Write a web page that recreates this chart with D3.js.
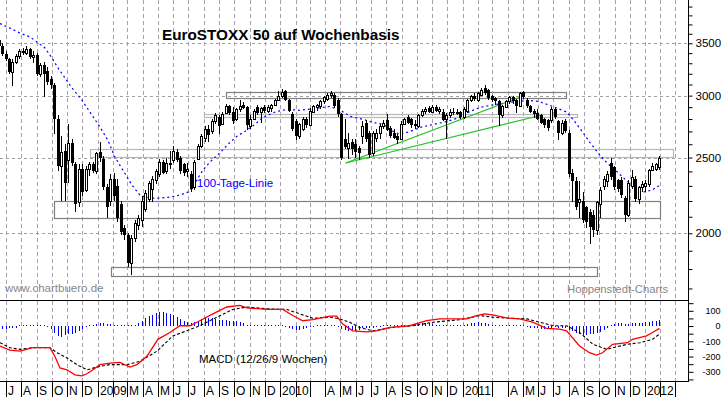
<!DOCTYPE html>
<html>
<head>
<meta charset="utf-8">
<script src="https://cdn.jsdelivr.net/npm/d3@7"></script>
<style>
  body { margin: 0; background: #fff; }
  svg { display: block; font-family: Arial, 'Liberation Sans', sans-serif; }
</style>
</head>
<body>
<div id="chart"></div>
<script>
// weekly candles, one per Monday from Jun 16 2008 to Jan 30 2012
let firstWeek = '2008-06-16',
    lastWeek = '2012-01-30';

let weekOpen = [
    3530,3470,3390,3340,3220,3310,3370,3420,3400,3440,
    3360,3380,3200,3280,3230,3150,3100,2800,2440,2550,
    2480,2610,2450,2190,2420,2270,2420,2450,2400,2540,
    2490,2290,2200,2350,2300,2180,2030,1990,1830,1970,
    2050,2080,2150,2210,2280,2340,2380,2470,2400,2450,
    2480,2540,2500,2450,2400,2380,2290,2490,2590,2650,
    2720,2700,2780,2820,2760,2850,2910,2860,2800,2880,
    2920,2900,2740,2800,2900,2860,2900,2870,2890,2920,
    2960,3000,3040,2960,2840,2780,2660,2720,2800,2750,
    2860,2900,2910,2950,2970,3010,3010,2960,2840,2640,
    2570,2620,2600,2570,2660,2770,2690,2530,2650,2690,
    2740,2790,2730,2690,2660,2640,2760,2820,2800,2760,
    2740,2830,2870,2890,2860,2900,2870,2860,2800,2830,
    2860,2850,2860,2820,2870,2960,3000,2960,3010,3070,
    3050,3000,2980,2950,2830,2900,2950,2990,2960,2910,
    3030,2960,2910,2870,2850,2830,2800,2790,2790,2880,
    2780,2690,2780,2690,2390,2330,2190,2200,2160,2130,
    2110,2020,2180,2300,2330,2460,2430,2340,2340,2220,
    2110,2300,2350,2210,2290,2300,2310,2410,2420,2430
];
let weekHigh = [
    3580,3500,3420,3350,3340,3390,3440,3450,3470,3450,
    3420,3400,3300,3310,3260,3180,3110,2830,2660,2600,
    2760,2640,2470,2450,2450,2440,2470,2470,2540,2620,
    2510,2310,2380,2390,2350,2200,2050,2000,1990,2080,
    2110,2230,2270,2330,2370,2420,2490,2480,2500,2550,
    2590,2560,2510,2460,2460,2400,2480,2600,2680,2740,
    2750,2800,2850,2830,2860,2930,2920,2900,2890,2960,
    2940,2910,2830,2880,2920,2900,2920,2920,2930,2970,
    3040,3060,3050,2970,2860,2800,2770,2820,2820,2890,
    2920,2930,2960,3000,3020,3040,3020,2980,2850,2800,
    2690,2640,2640,2590,2780,2790,2700,2700,2720,2760,
    2790,2840,2740,2720,2680,2780,2810,2830,2810,2790,
    2840,2880,2900,2910,2920,2920,2900,2880,2850,2880,
    2890,2880,2870,2900,2970,3010,3020,3030,3070,3100,
    3060,3010,2990,2960,2920,2960,3000,3000,2970,3030,
    3040,2980,2920,2880,2880,2840,2810,2800,2900,2890,
    2790,2790,2800,2710,2420,2360,2330,2260,2170,2150,
    2140,2200,2290,2370,2400,2500,2440,2350,2360,2230,
    2340,2410,2370,2300,2330,2340,2420,2460,2460,2510
];
let weekLow = [
    3450,3370,3320,3200,3090,3290,3340,3380,3380,3340,
    3300,3180,3170,2990,3100,3060,2680,2400,2200,2200,
    2320,2440,2130,2160,2230,2260,2370,2390,2380,2470,
    2270,2090,2170,2200,2070,1990,1960,1810,1770,1950,
    2020,2040,2130,2190,2190,2310,2360,2380,2380,2420,
    2460,2470,2380,2370,2360,2260,2270,2480,2570,2620,
    2620,2680,2760,2680,2750,2840,2830,2760,2780,2860,
    2880,2710,2720,2790,2830,2770,2850,2850,2860,2910,
    2950,2980,2950,2860,2700,2630,2640,2700,2730,2740,
    2850,2870,2880,2930,2950,2980,2890,2820,2480,2560,
    2490,2520,2500,2480,2600,2620,2500,2510,2620,2640,
    2720,2700,2650,2640,2600,2630,2750,2760,2730,2720,
    2730,2820,2840,2850,2850,2860,2840,2780,2640,2810,
    2830,2830,2800,2800,2850,2940,2950,2940,3000,3010,
    2960,2940,2920,2740,2810,2890,2930,2930,2850,2900,
    2970,2890,2850,2810,2790,2760,2730,2700,2770,2800,
    2630,2670,2690,2360,2190,2140,2090,2060,2030,1940,
    1980,1990,2090,2270,2290,2340,2270,2260,2220,2070,
    2100,2280,2190,2180,2260,2260,2290,2400,2400,2410
];
let weekClose = [
    3470,3390,3340,3220,3310,3370,3420,3400,3440,3360,
    3380,3200,3280,3200,3120,3100,2800,2440,2540,2320,
    2610,2460,2180,2420,2260,2420,2450,2400,2530,2500,
    2290,2160,2350,2230,2090,2010,1990,1830,1970,2060,
    2090,2200,2250,2320,2350,2400,2470,2390,2460,2460,
    2550,2480,2400,2390,2420,2280,2470,2590,2660,2720,
    2670,2780,2830,2740,2840,2910,2850,2780,2880,2910,
    2890,2750,2800,2870,2850,2890,2870,2900,2920,2960,
    3000,3030,2960,2870,2720,2660,2760,2800,2750,2870,
    2910,2920,2950,2990,3010,3020,2910,2840,2500,2580,
    2610,2560,2540,2530,2740,2640,2520,2690,2690,2740,
    2770,2710,2660,2650,2630,2760,2800,2770,2750,2740,
    2830,2870,2880,2860,2900,2870,2880,2790,2830,2860,
    2850,2860,2820,2880,2960,3000,2970,3020,3050,3020,
    2980,2960,2950,2830,2910,2950,2990,2950,2910,3020,
    2990,2910,2860,2840,2800,2770,2750,2730,2880,2820,
    2690,2770,2700,2380,2330,2160,2210,2080,2070,2040,
    2020,2190,2270,2350,2380,2360,2290,2280,2240,2110,
    2320,2360,2210,2290,2310,2320,2410,2440,2450,2500
];

// 100-Tage-Linie
let maDates = [
    '2008-06-19','2008-07-09','2008-07-29','2008-08-18','2008-09-01','2008-09-17','2008-10-01','2008-10-13',
    '2008-10-27','2008-11-10','2008-11-30','2008-12-16','2009-01-05','2009-01-21','2009-02-04','2009-02-20',
    '2009-03-10','2009-03-26','2009-04-15','2009-05-05','2009-05-25','2009-06-14','2009-06-30','2009-07-10',
    '2009-07-20','2009-07-30','2009-08-13','2009-09-02','2009-09-22','2009-10-06','2009-10-22','2009-11-11',
    '2009-11-27','2009-12-11','2009-12-25','2010-01-16','2010-02-09','2010-03-15','2010-04-10','2010-05-05',
    '2010-05-21','2010-06-16','2010-07-06','2010-07-26','2010-08-15','2010-08-29','2010-09-18','2010-10-08',
    '2010-11-03','2010-12-01','2010-12-27','2011-01-16','2011-02-05','2011-02-25','2011-03-23','2011-04-20',
    '2011-05-12','2011-06-01','2011-06-25','2011-07-15','2011-07-29','2011-08-10','2011-08-28','2011-09-13',
    '2011-09-29','2011-10-17','2011-11-06','2011-11-26','2011-12-16','2011-12-28','2012-01-15','2012-01-31'
];
let maValues = [
    3710,3660,3607,3566,3513,3452,3352,3255,
    3161,3069,2961,2858,2735,2631,2503,2409,
    2306,2238,2218,2218,2225,2238,2258,2285,
    2352,2409,2466,2535,2613,2661,2700,2756,
    2812,2839,2864,2881,2873,2890,2906,2864,
    2822,2797,2772,2756,2700,2676,2700,2732,
    2756,2781,2814,2864,2898,2915,2933,2950,
    2959,2950,2915,2881,2856,2797,2700,2613,
    2534,2460,2398,2332,2271,2258,2271,2306
];

// MACD (12/26/9) line, red
let macdDates = [
    '2008-06-19','2008-07-09','2008-07-29','2008-08-24','2008-09-27','2008-10-07','2008-10-17','2008-10-31',
    '2008-11-16','2008-11-30','2008-12-10','2008-12-22','2009-01-05','2009-01-25','2009-02-14','2009-03-06',
    '2009-03-20','2009-04-09','2009-05-01','2009-05-25','2009-06-14','2009-07-04','2009-07-24','2009-08-19',
    '2009-09-16','2009-10-12','2009-10-26','2009-12-05','2010-01-06','2010-01-26','2010-02-15','2010-03-07',
    '2010-04-10','2010-04-24','2010-05-06','2010-05-26','2010-06-23','2010-07-13','2010-08-08','2010-09-17',
    '2010-10-21','2010-11-16','2011-01-09','2011-01-29','2011-02-14','2011-03-02','2011-03-30','2011-04-25',
    '2011-05-21','2011-06-18','2011-07-14','2011-07-28','2011-08-23','2011-09-12','2011-09-26','2011-10-08',
    '2011-10-28','2011-11-27','2011-12-07','2012-01-04','2012-01-16','2012-01-30'
];
let macdValues = [
    -131,-158,-165,-142,-142,-200,-275,-287,
    -320,-327,-313,-287,-253,-243,-238,-269,
    -253,-198,-87,-42,2,2,35,80,
    125,135,120,109,109,69,35,42,
    65,65,13,-31,-38,-31,-9,2,
    35,47,47,69,80,73,53,47,
    25,-15,-20,-31,-131,-175,-191,-175,
    -120,-109,-87,-64,-42,-15
];

// signal line, black dashed
let signalDates = [
    '2008-06-19','2008-07-09','2008-07-29','2008-08-24','2008-09-27','2008-10-11','2008-10-31','2008-11-20',
    '2008-12-10','2009-01-05','2009-01-25','2009-02-28','2009-03-26','2009-04-29','2009-05-31','2009-06-28',
    '2009-07-24','2009-08-27','2009-09-28','2009-10-26','2009-12-05','2010-01-14','2010-02-09','2010-03-07',
    '2010-04-10','2010-04-30','2010-05-20','2010-06-09','2010-07-05','2010-08-14','2010-09-24','2010-11-03',
    '2010-12-27','2011-02-05','2011-03-02','2011-04-06','2011-05-10','2011-06-05','2011-07-01','2011-07-28',
    '2011-08-23','2011-09-19','2011-10-17','2011-11-06','2011-11-26','2011-12-22','2012-01-16','2012-01-30'
];
let signalValues = [
    -109,-142,-153,-142,-142,-175,-209,-253,
    -287,-264,-253,-253,-231,-165,-65,-31,
    2,58,109,125,113,109,80,51,
    58,47,25,-9,-31,-9,2,25,
    42,69,58,51,47,25,2,2,
    -42,-120,-153,-136,-120,-109,-87,-53
];

// histogram bars, one per week
let histValues = [
    -15,-20,-20,-15,-12,-10,2,3,3,2,
    0,3,2,0,-5,-20,-45,-65,-70,-60,
    -55,-50,-45,-35,-20,-5,3,8,15,20,
    18,15,12,10,8,5,3,2,3,10,
    20,35,50,65,75,85,90,90,85,80,
    75,60,45,35,25,20,25,35,45,50,
    50,50,45,40,40,40,35,30,30,25,
    20,10,3,2,2,3,2,3,5,3,
    2,0,-5,-12,-20,-25,-25,-20,-15,-8,
    -3,0,3,5,8,8,5,-5,-20,-28,
    -32,-35,-30,-25,-15,-15,-15,-10,-8,-5,
    5,10,10,8,5,5,8,10,10,12,
    15,20,20,18,15,10,5,3,2,3,
    3,3,5,10,15,20,22,25,22,20,
    12,5,3,2,2,3,3,2,3,2,
    0,-5,-10,-12,-15,-18,-18,-15,-10,-8,
    -10,-12,-15,-25,-35,-45,-55,-60,-60,-55,
    -50,-45,-40,-25,-10,5,15,20,20,15,
    15,20,20,20,20,25,25,30,35,40
];

// support / resistance boxes
let boxFrom = ['2009-09-14','2009-08-01','2008-12-16','2008-10-05','2009-01-27'],
    boxTo   = ['2011-07-26','2011-08-17','2012-02-25','2012-01-31','2011-09-27'],
    boxLow  = [2980, 2817, 2504, 2090, 1764],
    boxHigh = [3033, 2842, 2564, 2200, 1811];

// green trend lines
let trendFrom = ['2010-05-12','2010-05-12'],
    trendFromValue = [2460, 2460],
    trendTo = ['2011-05-02','2011-06-09'],
    trendToValue = [2997, 2834];

let priceTicks = [2000, 2500, 3000, 3500],
    macdTicks = [100, 0, -100, -200, -300];

// one label per month from Jul 2008 to Mar 2012, blank where the chart shows none
let monthLabels = [
    'J','A','S','O','N','D',
    '2009','','M','A','M','J','J','A','S','O','N','D',
    '2010','','','A','M','J','J','A','S','O','N','D',
    '2011','','','A','M','J','J','A','S','O','N','D',
    '2012','',''
];


let width = 723, height = 397,
    plotRight = 688,
    priceBottom = 300,
    macdBottom = 381;

let parse = d3.timeParse('%Y-%m-%d');

let svg = d3.select('#chart')
    .append('svg')
        .attr('width', width)
        .attr('height', height);

let x = d3.scaleTime()
    .domain([parse('2008-07-01'), parse('2012-01-01')])
    .range([6, 645]);

let y = d3.scaleLog()
    .domain([2000, 3500])
    .range([233.3, 43.3]);

let ym = d3.scaleLinear()
    .domain([-300, 100])
    .range([371.8, 310.8]);

let defs = svg.append('defs');
defs.append('clipPath').attr('id', 'clipPrice')
    .append('rect').attr('x', 0).attr('y', 0).attr('width', plotRight).attr('height', priceBottom);
defs.append('clipPath').attr('id', 'clipMacd')
    .append('rect').attr('x', 0).attr('y', priceBottom).attr('width', plotRight).attr('height', macdBottom - priceBottom);

let weeks = d3.timeMonday.range(parse(firstWeek), d3.timeDay.offset(parse(lastWeek), 1));
let candles = weeks.map(function(d, i) {
    return { date: d, o: weekOpen[i], h: weekHigh[i], l: weekLow[i], c: weekClose[i], hist: histValues[i] };
});

let months = d3.timeMonth.range(parse('2008-07-01'), parse('2012-03-02'));

// grid
svg.append('g')
    .selectAll('line')
    .data(months)
    .enter()
    .append('line')
        .attr('x1', d => Math.round(x(d)) + 0.5)
        .attr('x2', d => Math.round(x(d)) + 0.5)
        .attr('y1', 0)
        .attr('y2', macdBottom)
        .attr('stroke', '#ab9eb0')
        .attr('stroke-dasharray', '4,3');

svg.append('g')
    .selectAll('line')
    .data(priceTicks)
    .enter()
    .append('line')
        .attr('x1', 0)
        .attr('x2', plotRight)
        .attr('y1', d => Math.round(y(d)) + 0.5)
        .attr('y2', d => Math.round(y(d)) + 0.5)
        .attr('stroke', '#a0a0a0')
        .attr('stroke-dasharray', '3,3');

let price = svg.append('g').attr('clip-path', 'url(#clipPrice)');

// boxes
let lightBoxes = [1, 2];
price.selectAll('rect.box')
    .data(boxFrom)
    .enter()
    .append('rect')
        .attr('class', 'box')
        .attr('x', (d, i) => Math.round(x(parse(d))) + 0.5)
        .attr('y', (d, i) => Math.round(y(boxHigh[i])) + 0.5)
        .attr('width', (d, i) => Math.round(x(parse(boxTo[i])) - x(parse(d))))
        .attr('height', (d, i) => Math.round(y(boxLow[i]) - y(boxHigh[i])))
        .attr('fill', 'none')
        .attr('stroke', (d, i) => lightBoxes.includes(i) ? '#b8b8b8' : '#808080')
        .attr('stroke-width', 1.2);

// moving average
let maLine = d3.line()
    .x(d => x(d.date))
    .y(d => y(d.value));

price.append('path')
    .datum(maDates.map((d, i) => ({ date: parse(d), value: maValues[i] })))
    .attr('d', maLine)
    .attr('fill', 'none')
    .attr('stroke', '#0000ff')
    .attr('stroke-width', 1.2)
    .attr('stroke-dasharray', '2,3');

// trend lines
price.selectAll('line.trend')
    .data(trendFrom)
    .enter()
    .append('line')
        .attr('class', 'trend')
        .attr('x1', d => x(parse(d)))
        .attr('y1', (d, i) => y(trendFromValue[i]))
        .attr('x2', (d, i) => x(parse(trendTo[i])))
        .attr('y2', (d, i) => y(trendToValue[i]))
        .attr('stroke', '#22c422')
        .attr('stroke-width', 1.2);

// candles
let cg = price.selectAll('g.candle')
    .data(candles)
    .enter()
    .append('g')
        .attr('class', 'candle')
        .attr('shape-rendering', 'crispEdges');

cg.append('line')
    .attr('x1', d => Math.round(x(d.date)) + 0.5)
    .attr('x2', d => Math.round(x(d.date)) + 0.5)
    .attr('y1', d => Math.round(y(d.h)))
    .attr('y2', d => Math.round(y(d.l)))
    .attr('stroke', '#000');

cg.append('rect')
    .attr('x', d => d.c >= d.o ? Math.round(x(d.date)) - 0.5 : Math.round(x(d.date)) - 1)
    .attr('y', function(d) {
        let top = Math.round(y(Math.max(d.o, d.c)));
        return d.c >= d.o ? top + 0.5 : top;
    })
    .attr('width', d => d.c >= d.o ? 2 : 3)
    .attr('height', function(d) {
        let h = Math.round(y(Math.min(d.o, d.c))) - Math.round(y(Math.max(d.o, d.c)));
        return Math.max(h, 1);
    })
    .attr('fill', d => d.c >= d.o ? '#fff' : '#000')
    .attr('stroke', d => d.c >= d.o ? '#000' : 'none');

// MACD panel
let macd = svg.append('g').attr('clip-path', 'url(#clipMacd)');

macd.selectAll('line.hist')
    .data(candles)
    .enter()
    .append('line')
        .attr('class', 'hist')
        .attr('x1', d => Math.round(x(d.date)) + 0.5)
        .attr('x2', d => Math.round(x(d.date)) + 0.5)
        .attr('y1', d => Math.round(ym(0)))
        .attr('y2', function(d) {
            let y0 = Math.round(ym(0)), y1 = Math.round(ym(d.hist));
            return Math.abs(y1 - y0) < 1 ? y0 - 1 : y1;
        })
        .attr('stroke', '#0000ff')
        .attr('stroke-width', 1)
        .attr('shape-rendering', 'crispEdges');

let macdLine = d3.line()
    .x(d => x(d.date))
    .y(d => ym(d.value));

macd.append('path')
    .datum(signalDates.map((d, i) => ({ date: parse(d), value: signalValues[i] })))
    .attr('d', macdLine)
    .attr('fill', 'none')
    .attr('stroke', '#000')
    .attr('stroke-width', 1.1)
    .attr('stroke-dasharray', '3,2');

macd.append('path')
    .datum(macdDates.map((d, i) => ({ date: parse(d), value: macdValues[i] })))
    .attr('d', macdLine)
    .attr('fill', 'none')
    .attr('stroke', '#ff0000')
    .attr('stroke-width', 1.3);

// frame
svg.append('line')
    .attr('x1', 0).attr('x2', plotRight)
    .attr('y1', priceBottom + 0.5).attr('y2', priceBottom + 0.5)
    .attr('stroke', '#000');
svg.append('line')
    .attr('x1', 0).attr('x2', plotRight)
    .attr('y1', macdBottom + 0.5).attr('y2', macdBottom + 0.5)
    .attr('stroke', '#000');
svg.append('line')
    .attr('x1', plotRight + 0.5).attr('x2', plotRight + 0.5)
    .attr('y1', 0).attr('y2', macdBottom + 1)
    .attr('stroke', '#000');

// right axes
let priceAxis = d3.axisRight(y)
    .tickValues(d3.range(1700, 4000, 100))
    .tickSize(4)
    .tickFormat(d => priceTicks.includes(d) ? d : '');

svg.append('g')
    .attr('transform', 'translate(' + (plotRight + 0.5) + ',0)')
    .call(priceAxis)
    .call(g => g.select('.domain').remove())
    .call(g => g.selectAll('text').attr('x', 7).attr('fill', '#000').style('font-size', '11.5px').style('font-family', 'Arial, Liberation Sans, sans-serif'));

let macdAxis = d3.axisRight(ym)
    .tickValues(d3.range(-350, 151, 50))
    .tickSize(5)
    .tickFormat(d => macdTicks.includes(d) ? d : '');

svg.append('g')
    .attr('transform', 'translate(' + (plotRight + 0.5) + ',0)')
    .call(macdAxis)
    .call(g => g.select('.domain').remove())
    .call(g => g.selectAll('text').attr('x', 32).attr('text-anchor', 'end').attr('fill', '#000').style('font-size', '9px').style('font-family', 'Arial, Liberation Sans, sans-serif'));

// bottom month axis
svg.append('g')
    .selectAll('line')
    .data(months)
    .enter()
    .append('line')
        .attr('x1', d => Math.round(x(d)) + 0.5)
        .attr('x2', d => Math.round(x(d)) + 0.5)
        .attr('y1', macdBottom)
        .attr('y2', height)
        .attr('stroke', '#000');

svg.append('g')
    .selectAll('text')
    .data(months)
    .enter()
    .append('text')
        .attr('x', d => Math.round(x(d)) + 2)
        .attr('y', 395)
        .style('font-size', '12px')
        .attr('fill', '#000')
        .text((d, i) => monthLabels[i]);

// texts
svg.append('text')
    .attr('x', 162)
    .attr('y', 40)
    .style('font-size', '15.3px')
    .style('font-weight', 'bold')
    .text('EuroSTOXX 50 auf Wochenbasis');

svg.append('text')
    .attr('x', 197)
    .attr('y', 187)
    .style('font-size', '11.5px')
    .attr('fill', '#0000ff')
    .text('100-Tage-Linie');

svg.append('text')
    .attr('x', 5)
    .attr('y', 292)
    .style('font-size', '11.5px')
    .attr('fill', '#888')
    .text('www.chartbuero.de');

svg.append('text')
    .attr('x', 567)
    .attr('y', 293)
    .style('font-size', '11.3px')
    .attr('fill', '#888')
    .text('Hoppenstedt-Charts');

svg.append('text')
    .attr('x', 199)
    .attr('y', 363)
    .style('font-size', '11.5px')
    .attr('fill', '#000')
    .text('MACD (12/26/9 Wochen)');
</script>
</body>
</html>
